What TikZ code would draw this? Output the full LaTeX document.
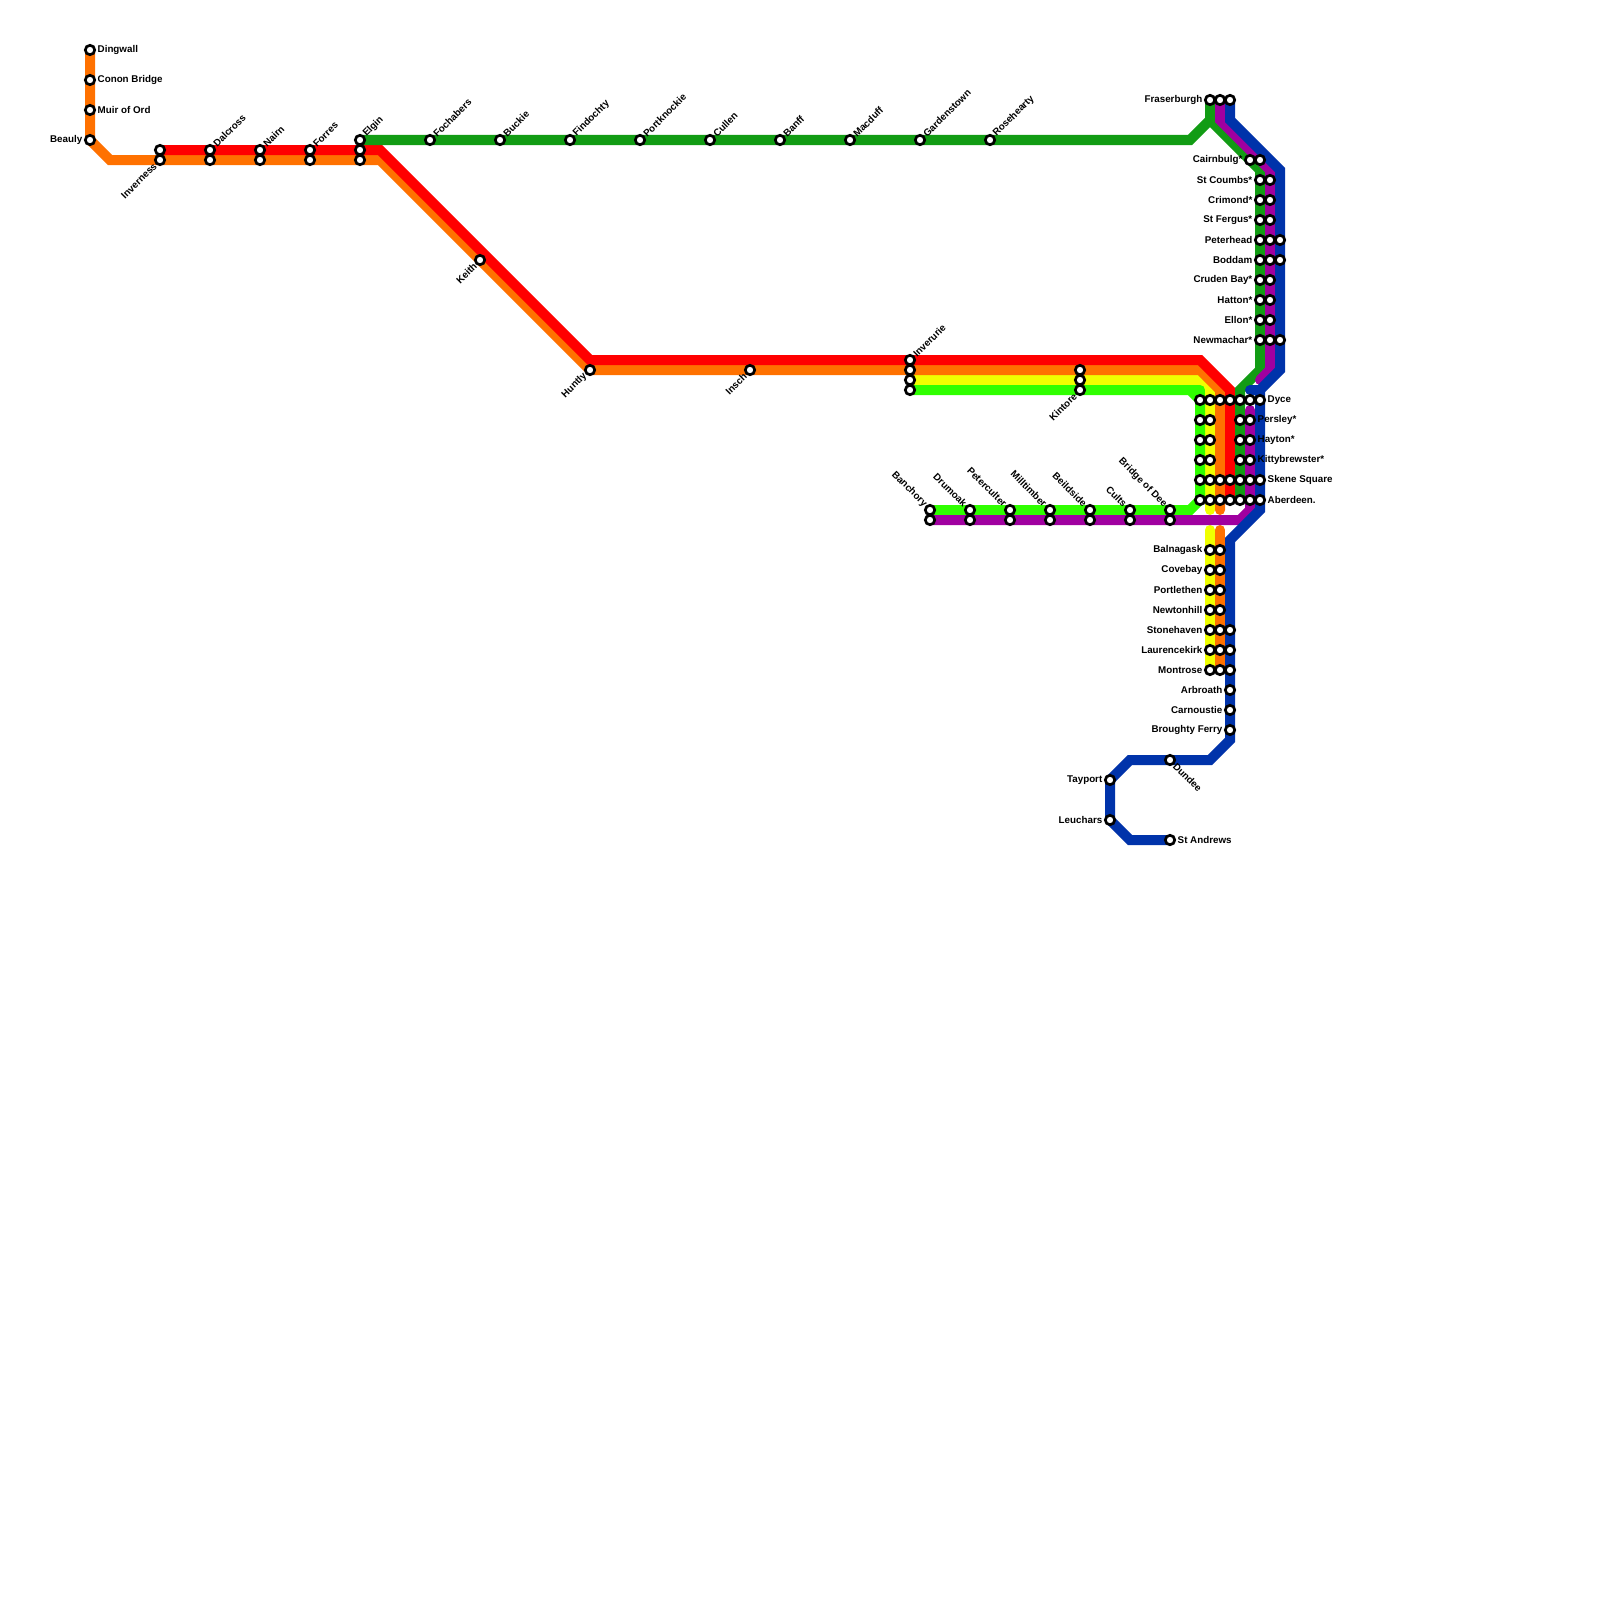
\documentclass[tikz,border=0pt]{standalone}
\usepackage{fontspec}
\setmainfont{Liberation Sans}
\usetikzlibrary{calc}
\pgfdeclarelayer{lines}
\pgfsetlayers{lines,main}
\definecolor{mred}{HTML}{FF0000}
\definecolor{morange}{HTML}{FF7100}
\definecolor{myellow}{HTML}{F0FF00}
\definecolor{mlime}{HTML}{2FFF00}
\definecolor{mgreen}{HTML}{129C14}
\definecolor{mpurple}{HTML}{A000A0}
\definecolor{mblue}{HTML}{0033AA}
\tikzset{
  x=1pt,y=-1pt,
  stn/.style={circle,draw=black,fill=white,line width=2.7pt,minimum size=9.4pt,inner sep=0pt,outer sep=0pt},
  mline/.style={line width=10pt,line cap=round,miter limit=10},
  txt/.style={font=\fontsize{9.8pt}{11pt}\selectfont\bfseries,inner sep=0pt,text=black},
  lw/.style={txt,anchor=east,xshift=-7.5pt},
  le/.style={txt,anchor=west,xshift=7.5pt},
  dne/.style={txt,anchor=west,rotate=45,xshift=6.6pt},
  dsw/.style={txt,anchor=east,rotate=45,xshift=-6.6pt},
  dnw/.style={txt,anchor=east,rotate=-45,xshift=-6.6pt},
  dse/.style={txt,anchor=west,rotate=-45,xshift=6.6pt},
}
\newcommand{\st}[3]{\node[stn] (#1) at (#2,#3) {};}
\newcommand{\lab}[3]{\node[#1] (t#2) at (#2.center) {#3};}
\begin{document}
\begin{tikzpicture}
\useasboundingbox (0,0) rectangle (1600,1600);
% bends
\coordinate (ob1) at (110,160);
\coordinate (ob2) at (380,160);
\coordinate (ob3) at (1200,370);
\coordinate (ob4) at (1220,390);
\coordinate (oe) at (1220,510);
\coordinate (os) at (1220,530);
\coordinate (rb1) at (380,150);
\coordinate (rb2) at (590,360);
\coordinate (rb3) at (1200,360);
\coordinate (rb4) at (1230,390);
\coordinate (yb) at (1200,380);
\coordinate (yb2) at (1210,390);
\coordinate (ye) at (1210,510);
\coordinate (ys) at (1210,530);
\coordinate (lb1) at (1190,390);
\coordinate (lb3) at (1200,390);
\coordinate (lb2) at (1190,510);
\coordinate (gb1) at (1190,140);
\coordinate (gj) at (1210,120);
\coordinate (gb2) at (1260,170);
\coordinate (gb3) at (1260,370);
\coordinate (gb4) at (1240,390);
\coordinate (pb1) at (1220,120);
\coordinate (pb2) at (1270,170);
\coordinate (pb3) at (1270,370);
\coordinate (pe) at (1260,380);
\coordinate (ps) at (1250,410);
\coordinate (pb5) at (1250,510);
\coordinate (pb4) at (1240,520);
\coordinate (bb1) at (1230,120);
\coordinate (bb2) at (1280,170);
\coordinate (bb3) at (1280,370);
\coordinate (bb4) at (1260,390);
\coordinate (bst) at (1250,390);
\coordinate (bb5) at (1260,510);
\coordinate (bb6) at (1230,540);
\coordinate (bb7) at (1230,740);
\coordinate (bb8) at (1210,760);
\coordinate (bb9) at (1130,760);
\coordinate (bb10) at (1130,840);
% stations
\st{dng}{90}{50}\st{con}{90}{80}\st{mui}{90}{110}\st{bea}{90}{140}
\st{inva}{160}{150}\st{invb}{160}{160}
\st{dala}{210}{150}\st{dalb}{210}{160}
\st{naia}{260}{150}\st{naib}{260}{160}
\st{fora}{310}{150}\st{forb}{310}{160}
\st{elga}{360}{140}\st{elgb}{360}{150}\st{elgc}{360}{160}
\st{foc}{430}{140}\st{buc}{500}{140}\st{fin}{570}{140}\st{por}{640}{140}
\st{cul}{710}{140}\st{bnf}{780}{140}\st{mac}{850}{140}\st{gar}{920}{140}\st{ros}{990}{140}
\st{kei}{480}{260}\st{hun}{590}{370}\st{ins}{750}{370}
\st{inua}{910}{360}\st{inub}{910}{370}\st{inuc}{910}{380}\st{inud}{910}{390}
\st{kina}{1080}{370}\st{kinb}{1080}{380}\st{kinc}{1080}{390}
\foreach \n/\x in {ban/930,dru/970,pet/1010,mil/1050,bei/1090,clt/1130,bri/1170}{
  \node[stn] (\n a) at (\x,510) {};
  \node[stn] (\n b) at (\x,520) {};
}
\st{fraa}{1210}{100}\st{frab}{1220}{100}\st{frac}{1230}{100}
\st{caia}{1250}{160}\st{caib}{1260}{160}
\foreach \n/\y in {stc/180,cri/200,stf/220,cru/280,hat/300,ell/320}{
  \node[stn] (\n a) at (1260,\y) {};
  \node[stn] (\n b) at (1270,\y) {};
}
\foreach \n/\y in {pth/240,bod/260,nem/340}{
  \node[stn] (\n a) at (1260,\y) {};
  \node[stn] (\n b) at (1270,\y) {};
  \node[stn] (\n c) at (1280,\y) {};
}
\foreach \n/\y in {dyc/400,ske/480,abd/500}{
  \foreach \x in {1200,1210,1220,1230,1240,1250,1260}{
    \node[stn] (\n\x) at (\x,\y) {};
  }
}
\foreach \n/\y in {per/420,hay/440,kit/460}{
  \foreach \x in {1200,1210,1240,1250}{
    \node[stn] (\n\x) at (\x,\y) {};
  }
}
\foreach \n/\y in {bal/550,cov/570,prl/590,new/610}{
  \node[stn] (\n a) at (1210,\y) {};
  \node[stn] (\n b) at (1220,\y) {};
}
\foreach \n/\y in {sto/630,lau/650,mon/670}{
  \node[stn] (\n a) at (1210,\y) {};
  \node[stn] (\n b) at (1220,\y) {};
  \node[stn] (\n c) at (1230,\y) {};
}
\st{arb}{1230}{690}\st{car}{1230}{710}\st{bro}{1230}{730}
\st{dun}{1170}{760}\st{tay}{1110}{780}\st{leu}{1110}{820}\st{sta}{1170}{840}
% connectors
\begin{pgfonlayer}{lines}
\fill[white] (0,0) rectangle (1600,1600);
\draw[mline,myellow] (inuc.center) -- (kinb.center) -- (yb) -- (yb2) -- (dyc1210.center) -- (abd1210.center) -- (ye);
\draw[mline,myellow] (ys) -- (bala.center) -- (mona.center);
\draw[mline,mlime] (inud.center) -- (kinc.center) -- (lb1) -- (dyc1200.center) -- (abd1200.center) -- (lb2) -- (bana.center);
\draw[mline,mlime,line join=round] (lb1) -- (lb3) -- (dyc1200.center);
\draw[mline,morange] (dng.center) -- (bea.center) -- (ob1) -- (invb.center) -- (elgc.center) -- (ob2) -- (hun.center) -- (ins.center) -- (inub.center) -- (kina.center) -- (ob3) -- (ob4) -- (abd1220.center) -- (oe);
\draw[mline,morange] (os) -- (balb.center) -- (monb.center);
\draw[mline,mred] (inva.center) -- (elgb.center) -- (rb1) -- (rb2) -- (inua.center) -- (rb3) -- (rb4) -- (abd1230.center);
\draw[mline,mgreen] (elga.center) -- (ros.center) -- (gb1) -- (gj) -- (fraa.center);
\draw[mline,mgreen] (gj) -- (gb2) -- (nema.center) -- (gb3) -- (gb4) -- (abd1240.center);
\draw[mline,mpurple] (frab.center) -- (pb1) -- (pb2) -- (nemb.center) -- (pb3) -- (pe);
\draw[mline,mpurple] (ps) -- (abd1250.center) -- (pb5) -- (pb4) -- (banb.center);
\draw[mline,mblue] (frac.center) -- (bb1) -- (bb2) -- (nemc.center) -- (bb3) -- (bb4) -- (abd1260.center) -- (bb5) -- (bb6) -- (stoc.center) -- (bro.center) -- (bb7) -- (bb8) -- (dun.center) -- (bb9) -- (tay.center) -- (leu.center) -- (bb10) -- (sta.center);
\draw[mline,mblue] (bst) -- (bb4);
\end{pgfonlayer}
% labels
\lab{le}{dng}{Dingwall}\lab{le}{con}{Conon Bridge}\lab{le}{mui}{Muir of Ord}\lab{lw}{bea}{Beauly}
\lab{dsw}{invb}{Inverness}\lab{dne}{dala}{Dalcross}\lab{dne}{naia}{Nairn}\lab{dne}{fora}{Forres}\lab{dne}{elga}{Elgin}
\lab{dne}{foc}{Fochabers}\lab{dne}{buc}{Buckie}\lab{dne}{fin}{Findochty}\lab{dne}{por}{Portknockie}
\lab{dne}{cul}{Cullen}\lab{dne}{bnf}{Banff}\lab{dne}{mac}{Macduff}\lab{dne}{gar}{Gardenstown}\lab{dne}{ros}{Rosehearty}
\lab{dsw}{kei}{Keith}\lab{dsw}{hun}{Huntly}\lab{dsw}{ins}{Insch}\lab{dne}{inua}{Inverurie}\lab{dsw}{kinc}{Kintore}
\lab{dnw}{bana}{Banchory}\lab{dnw}{drua}{Drumoak}\lab{dnw}{peta}{Peterculter}\lab{dnw}{mila}{Milltimber}
\lab{dnw}{beia}{Beildside}\lab{dnw}{clta}{Cults}\lab{dnw}{bria}{Bridge of Dee}
\lab{lw}{fraa}{Fraserburgh}\lab{lw}{caia}{Cairnbulg*}\lab{lw}{stca}{St Coumbs*}\lab{lw}{cria}{Crimond*}
\lab{lw}{stfa}{St Fergus*}\lab{lw}{ptha}{Peterhead}\lab{lw}{boda}{Boddam}\lab{lw}{crua}{Cruden Bay*}
\lab{lw}{hata}{Hatton*}\lab{lw}{ella}{Ellon*}\lab{lw}{nema}{Newmachar*}
\lab{le}{dyc1260}{Dyce}\lab{le}{per1250}{Persley*}\lab{le}{hay1250}{Hayton*}\lab{le}{kit1250}{Kittybrewster*}
\lab{le}{ske1260}{Skene Square}\lab{le}{abd1260}{Aberdeen.}
\lab{lw}{bala}{Balnagask}\lab{lw}{cova}{Covebay}\lab{lw}{prla}{Portlethen}\lab{lw}{newa}{Newtonhill}
\lab{lw}{stoa}{Stonehaven}\lab{lw}{laua}{Laurencekirk}\lab{lw}{mona}{Montrose}
\lab{lw}{arb}{Arbroath}\lab{lw}{car}{Carnoustie}\lab{lw}{bro}{Broughty Ferry}
\lab{dse}{dun}{Dundee}\lab{lw}{tay}{Tayport}\lab{lw}{leu}{Leuchars}\lab{le}{sta}{St Andrews}
\end{tikzpicture}
\end{document}
